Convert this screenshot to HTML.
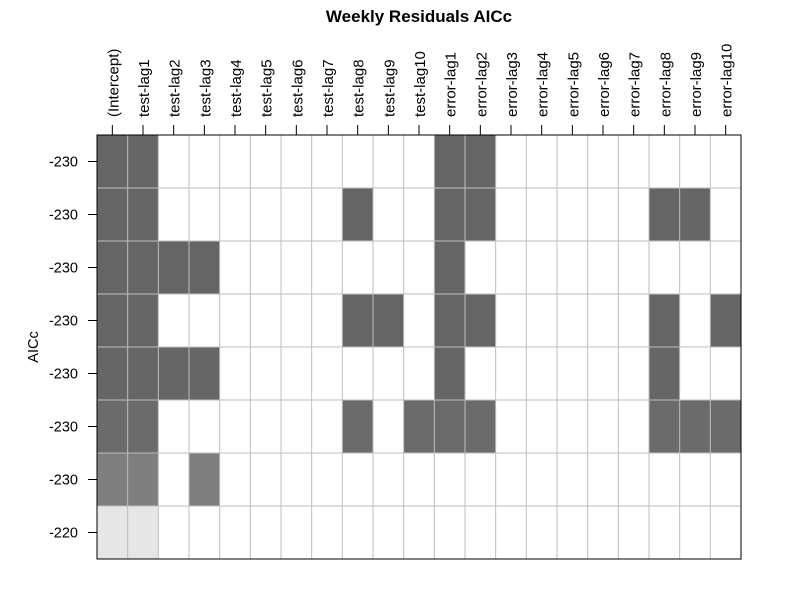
<!DOCTYPE html>
<html><head><meta charset="utf-8"><style>
body{margin:0;background:#fff;font-family:"Liberation Sans",Arial,sans-serif}
</style></head><body>
<svg id="chart" width="800" height="600" xmlns="http://www.w3.org/2000/svg">
<rect width="800" height="600" fill="#fff"/>
<text x="419" y="22" text-anchor="middle" font-size="17" font-weight="bold">Weekly Residuals AICc</text>
<text transform="translate(38,347) rotate(-90)" text-anchor="middle" font-size="14.5">AICc</text>
<g id="cells"></g><g id="grid"></g><g id="axes"></g>
</svg>
<script>
const variables=["(Intercept)","test-lag1","test-lag2","test-lag3","test-lag4","test-lag5","test-lag6","test-lag7","test-lag8","test-lag9","test-lag10","error-lag1","error-lag2","error-lag3","error-lag4","error-lag5","error-lag6","error-lag7","error-lag8","error-lag9","error-lag10"];
const rowLabels=["-230","-230","-230","-230","-230","-230","-230","-220"];
const rowShades=["#656565","#656565","#656565","#656565","#666666","#6b6b6b","#7f7f7f","#e6e6e6"];
const included=[[0,1,11,12],[0,1,8,11,12,18,19],[0,1,2,3,11],[0,1,8,9,11,12,18,20],[0,1,2,3,11,18],[0,1,8,10,11,12,18,19,20],[0,1,3],[0,1]];
const NS="http://www.w3.org/2000/svg";
const L=97,R=741,T=135,B=559;
const cw=(R-L)/variables.length, rh=(B-T)/rowLabels.length;
const xs=i=>L+i*cw, ys=j=>T+j*rh;
function mk(tag,attrs,parent){const e=document.createElementNS(NS,tag);for(const k in attrs)e.setAttribute(k,attrs[k]);parent.appendChild(e);return e;}
const cells=document.getElementById('cells'),grid=document.getElementById('grid'),axes=document.getElementById('axes');
included.forEach((row,j)=>row.forEach(i=>{
 const r=mk('rect',{x:xs(i),y:ys(j),width:cw,height:rh,fill:rowShades[j]},cells);
 
 
}));
for(let i=0;i<=variables.length;i++)mk('line',{x1:xs(i),x2:xs(i),y1:T,y2:B,stroke:'#bebebe','stroke-width':1},grid);
for(let j=0;j<=rowLabels.length;j++)mk('line',{x1:L,x2:R,y1:ys(j),y2:ys(j),stroke:'#bebebe','stroke-width':1},grid);
const box=mk('rect',{x:L,y:T,width:R-L,height:B-T,fill:'none',stroke:'#000','stroke-width':1},axes);


variables.forEach((v,i)=>{
 const cx=xs(i)+cw/2;
 mk('line',{x1:cx,x2:cx,y1:T,y2:T-10,stroke:'#000'},axes);
 const t=mk('text',{transform:`translate(${cx+6},${T-18}) rotate(-90)`,'font-size':15},axes);
 t.textContent=v;
 
 
});
rowLabels.forEach((v,j)=>{
 const cy=ys(j)+rh/2;
 mk('line',{x1:L,x2:L-9,y1:cy,y2:cy,stroke:'#000'},axes);
 const t=mk('text',{x:L-19,y:cy+5,'text-anchor':'end','font-size':14.5},axes);
 t.textContent=v;
 
 
});
</script>
</body></html>
